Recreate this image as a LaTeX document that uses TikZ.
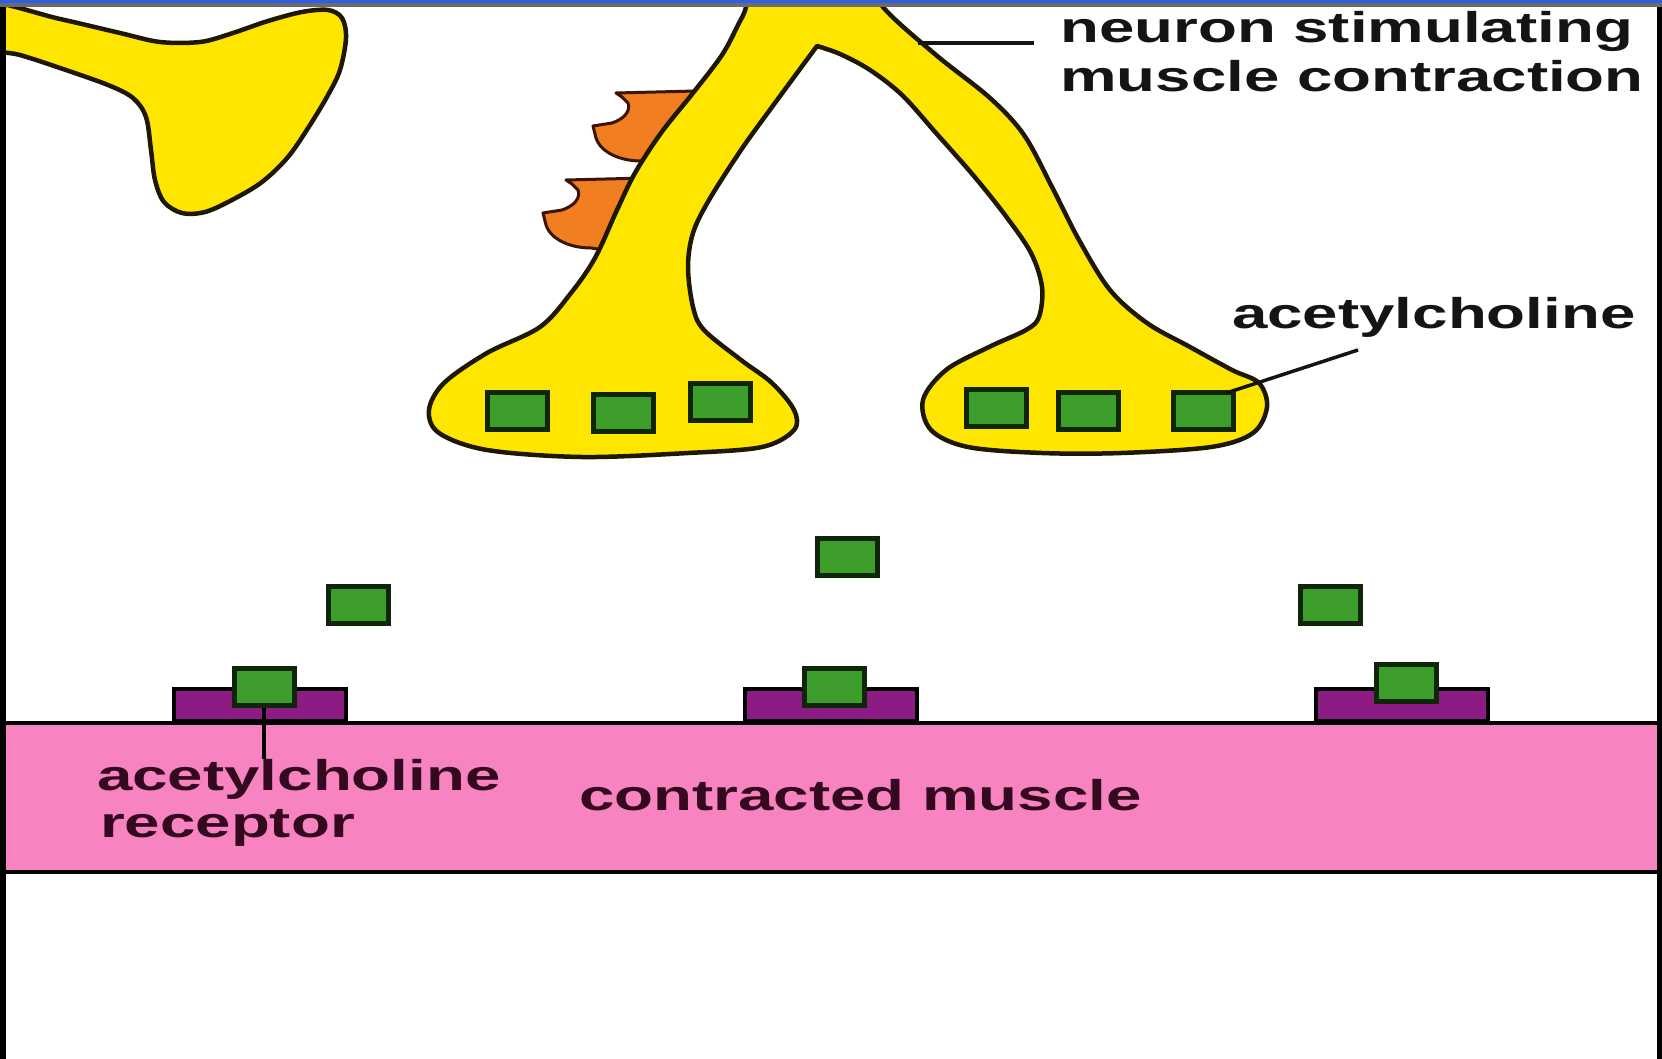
\documentclass[tikz,border=0pt]{standalone}
\usepackage{fontspec}
\newfontfamily\lblfont{Liberation Sans Bold}[FakeStretch=1.48]
\usetikzlibrary{calc}

\definecolor{nerveyellow}{HTML}{FFE600}
\definecolor{nerveline}{HTML}{1E1800}
\definecolor{budorange}{HTML}{F27E22}
\definecolor{budline}{HTML}{3A1404}
\definecolor{achgreen}{HTML}{3D9E2C}
\definecolor{achline}{HTML}{10260A}
\definecolor{recpurple}{HTML}{8C1B84}
\definecolor{musclepink}{HTML}{F783C0}
\definecolor{inkdark}{HTML}{141414}
\definecolor{inkmaroon}{HTML}{34081E}
\definecolor{framebar}{HTML}{2F5EE0}
\definecolor{framegray}{HTML}{6B6B6B}

\tikzset{
  nerve/.style={fill=nerveyellow, draw=nerveline, line width=4.5pt, line join=round},
  bud/.style={fill=budorange, draw=budline, line width=3pt, line join=round},
  ach/.style={rectangle, draw=achline, fill=achgreen, line width=5pt,
    minimum width=60pt, minimum height=37pt, inner sep=0pt},
  receptor/.style={rectangle, draw=black, fill=recpurple, line width=4pt,
    minimum width=172pt, minimum height=32pt, inner sep=0pt},
  lbltext/.style={font=\lblfont\fontsize{43}{49}\selectfont, inner sep=0pt, anchor=base west},
  pointer/.style={draw=inkdark, line width=3.5pt},
}

% one orange bud, drawn with its top-left corner at the origin
\newcommand\budshape{%
  \draw[bud] (0,0) -- (80,-2) -- (52,72) -- (25,68)
    .. controls (5,68) and (-15,60) .. (-20,45) -- (-23,33) -- (-4,30)
    .. controls (8,26) and (15,18) .. (12,10) -- (6,4) -- cycle;}

\begin{document}
\begin{tikzpicture}[x=1pt,y=-1pt]
\useasboundingbox (0,0) rectangle (1662,1059);
\fill[white] (0,0) rectangle (1662,1059);

\begin{scope}
\clip (0,0) rectangle (1662,1059);

% muscle fibre
\draw[fill=musclepink, line width=4pt] (-10,723) rectangle (1672,872);

% receptors on the muscle surface
\node[receptor] (r1) at (260,705) {};
\node[receptor] (r2) at (831,705) {};
\node[receptor] (r3) at (1402,705) {};

% acetylcholine bound to receptors
\node[ach] (b1) at (264,687) {};
\node[ach] (b2) at (834,687) {};
\node[ach] (b3) at (1406,683) {};

% acetylcholine crossing the cleft
\node[ach] (fa) at (358,605) {};
\node[ach] (fb) at (847,557) {};
\node[ach] (fc) at (1330,605) {};

% orange buds on the left branch
\begin{scope}[shift={(616,93)}]\budshape\end{scope}
\begin{scope}[shift={(566,180)}]\budshape\end{scope}

% the motor neuron: stem, two branches and their terminal boutons
\draw[nerve] plot[smooth, tension=0.55] coordinates {
    (752,-30) (746,7) (738,25) (722,55) (693,93) (661,133) (635,173) (617,210)
    (595,258) (571,293) (540,327) (487,353) (444,383) (429,410) (439,433)
    (487,450) (582,457) (688,453) (762,447) (794,430) (794,410) (772,383)
    (741,360) (704,330) (693,307) (688,267) (693,233) (709,200) (741,150)
    (772,107) (817,46)}
  -- plot[smooth, tension=0.55] coordinates {
    (817,46) (840,54) (870,70) (902,95) (936,133) (973,175) (1005,215)
    (1031,253) (1042,287) (1039,317) (1026,330) (989,347) (946,370) (923,400)
    (931,430) (968,447) (1042,453) (1121,453) (1211,447) (1253,433) (1267,407)
    (1259,383) (1232,370) (1190,347) (1147,323) (1110,290) (1079,240)
    (1052,187) (1024,135) (990,98) (936,55) (883,7) (866,-30)}
  -- cycle;

% neighbouring neuron ending at the top left
\draw[nerve] plot[smooth cycle, tension=0.55] coordinates {
    (-20,2) (60,19) (120,33) (160,42) (200,42) (230,34) (268,21) (302,12)
    (328,10) (342,18) (346,38) (340,70) (328,95) (310,125) (288,157)
    (262,182) (232,200) (205,212) (182,213) (164,202) (155,180) (151,150)
    (146,117) (133,98) (108,85) (60,68) (20,55) (-20,45)};

% vesicles of acetylcholine in the boutons
\node[ach] (v1) at (517,411) {};
\node[ach] (v2) at (623,413) {};
\node[ach] (v3) at (720,402) {};
\node[ach] (v4) at (996,408) {};
\node[ach] (v5) at (1088,411) {};
\node[ach] (v6) at (1203,411) {};

% labels
\node[lbltext, text=inkdark] (nrn1) at (1060,43) {neuron stimulating};
\node[lbltext, text=inkdark] (nrn2) at (1060,92) {muscle contraction};
\node[lbltext, text=inkdark] (achTxt) at (1232,328) {acetylcholine};
\node[lbltext, text=inkmaroon] (recTxt1) at (97,790) {acetylcholine};
\node[lbltext, text=inkmaroon] (recTxt2) at (100,837) {receptor};
\node[lbltext, text=inkmaroon] (musTxt) at (579,810) {contracted muscle};

% leader lines
\coordinate (nEdge) at (918,43);
\coordinate (nTip) at (1034,43);
\draw[pointer] (nEdge) -- (nTip);
\coordinate (achTip) at (1358,350);
\draw[pointer, shorten >=-10pt] (achTip) -- (v6.north east);
\draw[pointer, draw=black] (b1.south) -- (b1.south |- recTxt1.north);
\end{scope}

% window frame
\fill[black] (0,0) rectangle (6,1059);
\fill[black] (1657,0) rectangle (1662,1059);
\fill[framegray] (0,3) rectangle (1662,7);
\fill[framebar] (0,0) rectangle (1662,3);
\end{tikzpicture}
\end{document}
